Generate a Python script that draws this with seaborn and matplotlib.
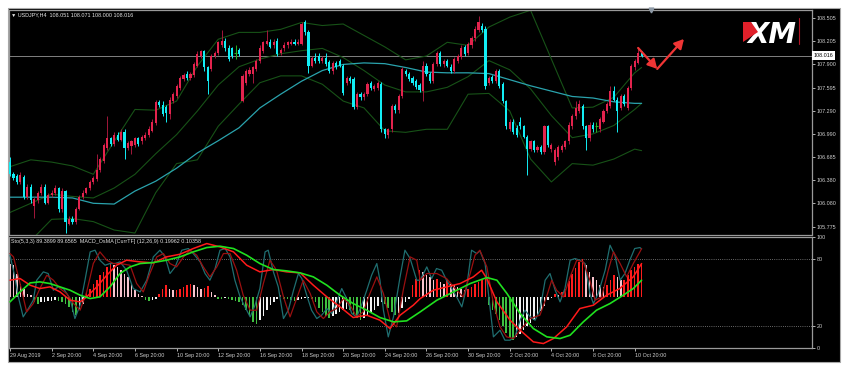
import numpy as np
import matplotlib
matplotlib.use("Agg")
import matplotlib.pyplot as plt
from matplotlib.patches import Rectangle, Polygon
import seaborn as sns

# ---------------- data ----------------
symbol_header = "\u25bc USDJPY,H4  108.051 108.071 108.000 108.016"
indicator_header = "Sto(5,3,3) 89.3899 89.6565  MACD_OsMA [CurrTF] (12,26,9) 0.19962 0.10358"

opens = [
    106.62, 106.46, 106.44, 106.36, 106.42, 106.16, 106.30, 106.04, 106.12, 106.21,
    106.30, 106.09, 106.19, 106.21, 106.28, 106.00, 106.24, 105.81, 105.88, 105.84,
    106.00, 106.16, 106.22, 106.28, 106.36, 106.40, 106.52, 106.64, 106.81, 106.93,
    106.86, 106.98, 106.91, 107.02, 106.81, 106.83, 106.85, 106.93, 106.89, 106.94,
    106.98, 107.03, 107.13, 107.41, 107.37, 107.34, 107.25, 107.42, 107.48, 107.59,
    107.71, 107.78, 107.72, 107.76, 107.88, 108.01, 108.07, 107.86, 107.84, 108.01,
    108.05, 108.16, 108.21, 108.12, 108.11, 108.05, 108.09, 107.42, 107.66, 107.78,
    107.78, 107.84, 107.95, 108.08, 108.17, 108.20, 108.15, 108.21, 108.05, 108.11,
    108.15, 108.17, 108.20, 108.17, 108.17, 108.45, 108.32, 107.88, 107.99, 108.01,
    107.95, 107.99, 107.93, 107.82, 107.92, 107.95, 107.88, 107.66, 107.72, 107.71,
    107.34, 107.51, 107.47, 107.51, 107.66, 107.58, 107.59, 107.64, 107.05, 106.98,
    107.05, 107.35, 107.30, 107.48, 107.82, 107.78, 107.72, 107.68, 107.63, 107.55,
    107.88, 107.78, 107.68, 107.91, 108.05, 107.91, 107.95, 107.87, 107.82, 107.95,
    108.00, 108.13, 108.05, 108.15, 108.24, 108.35, 108.41, 108.37, 107.66, 107.74,
    107.68, 107.82, 107.64, 107.42, 107.06, 107.15, 107.07, 107.15, 107.09, 106.95,
    106.79, 106.89, 106.78, 106.82, 106.75, 107.09, 106.79, 106.62, 106.69, 106.78,
    106.82, 106.89, 107.09, 107.22, 107.29, 107.35, 107.09, 106.93, 107.11, 107.09,
    107.05, 107.15, 107.29, 107.35, 107.55, 107.44, 107.33, 107.48, 107.33, 107.59,
    107.86, 107.92, 108.051]
highs = [
    106.69, 106.49, 106.46, 106.49, 106.45, 106.33, 106.33, 106.16, 106.24, 106.33,
    106.33, 106.22, 106.25, 106.32, 106.30, 106.28, 106.26, 105.91, 105.91, 106.03,
    106.19, 106.25, 106.30, 106.38, 106.44, 106.73, 106.69, 106.87, 107.22, 106.95,
    107.01, 107.02, 107.05, 107.05, 106.90, 106.91, 106.95, 106.95, 106.98, 107.01,
    107.09, 107.18, 107.44, 107.43, 107.42, 107.37, 107.47, 107.54, 107.64, 107.75,
    107.79, 107.82, 107.80, 107.93, 108.07, 108.09, 108.09, 107.88, 108.04, 108.08,
    108.21, 108.35, 108.24, 108.15, 108.13, 108.15, 108.12, 107.78, 107.84, 107.86,
    107.88, 107.97, 108.15, 108.21, 108.35, 108.23, 108.23, 108.24, 108.12, 108.19,
    108.21, 108.23, 108.23, 108.23, 108.45, 108.48, 108.35, 108.01, 108.05, 108.05,
    108.01, 108.05, 107.96, 107.95, 107.95, 107.97, 107.91, 107.75, 107.75, 107.74,
    107.54, 107.54, 107.54, 107.67, 107.68, 107.64, 107.68, 107.67, 107.07, 107.07,
    107.38, 107.38, 107.51, 107.87, 107.84, 107.80, 107.75, 107.71, 107.66, 107.95,
    107.92, 107.80, 107.93, 108.08, 108.08, 107.97, 107.97, 107.90, 108.00, 108.04,
    108.15, 108.16, 108.20, 108.27, 108.40, 108.53, 108.44, 108.41, 107.75, 107.76,
    107.84, 107.84, 107.67, 107.44, 107.18, 107.18, 107.10, 107.21, 107.11, 106.98,
    106.91, 106.91, 106.85, 106.85, 107.11, 107.11, 106.87, 106.81, 106.85, 106.86,
    106.91, 107.14, 107.25, 107.42, 107.44, 107.38, 107.11, 107.14, 107.14, 107.15,
    107.21, 107.31, 107.41, 107.62, 107.62, 107.47, 107.51, 107.51, 107.62, 107.91,
    107.97, 108.12, 108.071]
lows = [
    106.44, 106.38, 106.33, 106.33, 106.13, 106.13, 106.09, 105.89, 106.09, 106.19,
    106.07, 106.07, 106.16, 106.19, 105.97, 105.97, 105.69, 105.79, 105.81, 105.81,
    105.99, 106.13, 106.20, 106.25, 106.33, 106.37, 106.49, 106.61, 106.78, 106.83,
    106.83, 106.89, 106.89, 106.66, 106.78, 106.73, 106.82, 106.83, 106.86, 106.91,
    106.95, 107.01, 107.10, 107.34, 107.22, 107.15, 107.18, 107.39, 107.46, 107.56,
    107.68, 107.70, 107.70, 107.74, 107.86, 107.99, 107.82, 107.51, 107.82, 107.99,
    108.03, 108.13, 108.08, 107.95, 107.99, 107.97, 108.01, 107.41, 107.63, 107.75,
    107.66, 107.82, 107.92, 108.05, 108.15, 108.11, 108.12, 108.01, 108.03, 108.08,
    108.12, 108.15, 108.15, 108.15, 108.15, 108.29, 107.79, 107.86, 107.92, 107.92,
    107.92, 107.88, 107.79, 107.78, 107.84, 107.86, 107.50, 107.63, 107.66, 107.31,
    107.31, 107.44, 107.44, 107.48, 107.56, 107.55, 107.56, 107.02, 106.93, 106.94,
    107.02, 107.27, 107.27, 107.46, 107.75, 107.68, 107.63, 107.58, 107.54, 107.42,
    107.75, 107.66, 107.66, 107.88, 107.88, 107.87, 107.86, 107.79, 107.79, 107.92,
    107.97, 108.01, 108.03, 108.12, 108.21, 108.32, 108.32, 107.58, 107.63, 107.66,
    107.66, 107.59, 107.39, 107.06, 107.03, 106.99, 106.95, 107.06, 106.93, 106.45,
    106.77, 106.75, 106.75, 106.73, 106.73, 106.82, 106.75, 106.58, 106.65, 106.75,
    106.79, 106.86, 107.06, 107.19, 107.26, 107.05, 106.78, 106.90, 107.02, 107.02,
    107.02, 107.13, 107.26, 107.33, 107.42, 107.02, 107.30, 107.35, 107.30, 107.56,
    107.83, 107.90, 108.000]
closes = [
    106.46, 106.41, 106.36, 106.45, 106.16, 106.30, 106.12, 106.13, 106.21, 106.30,
    106.09, 106.19, 106.22, 106.28, 106.00, 106.24, 105.83, 105.88, 105.84, 106.00,
    106.16, 106.22, 106.28, 106.36, 106.41, 106.52, 106.66, 106.85, 106.93, 106.86,
    106.98, 106.91, 107.02, 106.81, 106.87, 106.89, 106.93, 106.86, 106.95, 106.98,
    107.06, 107.15, 107.41, 107.37, 107.25, 107.26, 107.44, 107.51, 107.62, 107.72,
    107.76, 107.72, 107.78, 107.91, 108.04, 108.07, 107.86, 107.68, 108.01, 108.05,
    108.19, 108.21, 108.11, 107.97, 108.01, 108.05, 108.04, 107.75, 107.82, 107.83,
    107.86, 107.95, 108.12, 108.19, 108.21, 108.13, 108.20, 108.04, 108.09, 108.16,
    108.19, 108.20, 108.17, 108.20, 108.43, 108.32, 107.88, 107.99, 107.95, 107.95,
    107.99, 107.91, 107.82, 107.92, 107.87, 107.88, 107.52, 107.72, 107.68, 107.34,
    107.51, 107.47, 107.51, 107.64, 107.59, 107.62, 107.66, 107.05, 106.99, 107.05,
    107.35, 107.30, 107.48, 107.84, 107.78, 107.71, 107.66, 107.60, 107.56, 107.88,
    107.78, 107.68, 107.91, 108.05, 107.91, 107.95, 107.88, 107.82, 107.97, 108.01,
    108.12, 108.04, 108.17, 108.24, 108.37, 108.45, 108.35, 107.62, 107.72, 107.68,
    107.82, 107.62, 107.42, 107.09, 107.15, 107.02, 106.98, 107.09, 106.95, 106.79,
    106.89, 106.78, 106.82, 106.75, 107.09, 106.85, 106.85, 106.78, 106.82, 106.83,
    106.89, 107.11, 107.22, 107.33, 107.38, 107.09, 106.93, 107.11, 107.05, 107.09,
    107.18, 107.29, 107.38, 107.55, 107.44, 107.29, 107.48, 107.38, 107.59, 107.88,
    107.95, 108.05, 108.016]

# moving average and Bollinger bands, read once per trading day
line_bars = list(range(0, 181, 6)) + [182]
ma_line = [106.16, 106.16, 106.16, 106.15, 106.08, 106.07, 106.24, 106.37, 106.54, 106.74,
           106.90, 107.07, 107.33, 107.51, 107.68, 107.82, 107.90, 107.92, 107.91, 107.86,
           107.80, 107.79, 107.79, 107.78, 107.70, 107.62, 107.55, 107.48, 107.46, 107.41,
           107.39, 107.39]
band_upper = [106.56, 106.65, 106.62, 106.57, 106.46, 106.89, 107.31, 107.30, 107.42, 107.88,
              108.23, 108.32, 108.32, 108.36, 108.45, 108.41, 108.43, 108.28, 108.13, 107.96,
              108.01, 108.19, 108.15, 108.39, 108.52, 108.61, 107.97, 107.33, 107.34, 107.47,
              107.79, 107.86]
band_mid = [105.96, 106.08, 106.20, 106.17, 106.15, 106.28, 106.46, 106.73, 106.98, 107.29,
            107.63, 107.87, 107.97, 108.04, 108.08, 108.11, 107.99, 107.82, 107.63, 107.54,
            107.54, 107.60, 107.74, 107.95, 107.83, 107.58, 107.23, 106.94, 106.99, 107.10,
            107.31, 107.39]
band_lower = [105.43, 105.59, 105.87, 105.88, 105.84, 105.73, 105.69, 106.22, 106.60, 106.65,
              107.09, 107.38, 107.66, 107.75, 107.75, 107.64, 107.42, 107.33, 107.03, 107.01,
              107.05, 107.05, 107.51, 107.52, 107.29, 106.66, 106.36, 106.60, 106.58, 106.66,
              106.79, 106.77]

# oscillator panel (0..100 scale)
osma_zero = 46.2
osma = [30.0, 28.5, 21.0, 12.0, 7.5, 3.0, 1.5, -4.5, -6.0, -5.0,
        -4.5, -4.0, -3.5, -3.0, -3.5, -4.5, -6.0, -9.0, -13.5, -16.5,
        -12.0, -6.0, 4.5, 7.5, 12.0, 15.0, 19.5, 22.5, 27.0, 30.0,
        28.5, 27.0, 24.0, 21.0, 18.0, 12.0, 6.0, 3.0, 0.9, -3.0,
        -3.6, -3.0, -1.5, 3.0, 7.5, 10.5, 7.5, 6.0, 6.6, 7.5,
        9.0, 10.5, 11.4, 10.5, 9.0, 7.5, 8.4, 9.6, 4.5, 1.5,
        -1.5, -2.1, -1.2, -1.8, -3.0, -3.6, -4.5, -7.5, -12.0, -17.4,
        -22.5, -24.0, -21.0, -17.4, -12.0, -7.5, -4.5, -1.5, 1.5, -1.5,
        -2.1, -3.0, -3.3, -2.4, -1.5, -1.2, -0.6, -1.8, -4.5, -9.6,
        -13.5, -17.4, -18.6, -17.4, -15.6, -13.8, -12.0, -10.8, -12.0, -15.6,
        -18.6, -20.4, -18.6, -16.5, -14.4, -11.4, -7.8, -4.8, -6.6, -9.6,
        -13.5, -16.5, -14.4, -9.6, -4.5, -1.5, 10.5, 16.5, 24.0, 22.5,
        19.5, 18.0, 15.0, 16.5, 13.5, 12.0, 15.0, 12.0, 10.5, 9.0,
        7.5, 6.6, 7.5, 9.0, 11.4, 13.5, 15.6, 16.5, -7.5, -12.0,
        -15.6, -20.4, -26.4, -32.4, -36.6, -39.0, -36.0, -33.0, -30.0, -26.4,
        -23.4, -20.4, -16.5, -12.9, -8.4, -3.0, -0.9, 2.4, 1.5, 4.5,
        7.5, 14.4, 21.0, 26.4, 31.5, 34.5, 28.5, 22.5, 18.0, 15.0,
        11.1, 9.0, 10.5, 15.0, 19.5, 18.0, 15.0, 15.6, 19.5, 24.6,
        27.0, 30.0, 30.6]

stoch_k_bars = [0, 1.4, 2.4, 3.8, 5.3, 6.7, 7.7, 9.6, 11.0, 12.5, 13.9, 15.4, 17.3, 18.7, 20.2, 21.6,
                23.1, 24.5, 25.9, 27.4, 28.8, 30.3, 31.7, 33.6, 35.5, 37.5, 39.4, 41.3, 43.2, 44.7,
                46.1, 47.6, 49.5, 51.4, 52.8, 54.8, 56.2, 57.6, 59.1, 60.5, 62.0, 63.4, 64.8, 66.3,
                67.7, 69.2, 70.6, 72.0, 73.5, 74.4, 75.9, 77.3, 78.8, 80.2, 81.7, 83.1, 84.1, 85.5,
                86.9, 88.4, 89.8, 91.3, 92.7, 94.1, 95.6, 97.0, 98.5, 99.9, 101.3, 102.8, 104.2,
                105.7, 106.6, 107.6, 109.0, 110.5, 112.4, 113.8, 115.3, 117.2, 118.2, 120.1, 121.5,
                122.9, 124.4, 125.8, 127.3, 128.7, 130.2, 131.6, 133.0, 134.5, 135.4, 136.9, 138.3,
                139.3, 141.2, 142.6, 144.1, 145.5, 147.0, 148.4, 149.9, 151.3, 152.7, 154.2, 155.6,
                157.1, 158.5, 159.9, 161.4, 162.8, 164.2, 165.7, 167.1, 168.1, 169.5, 171.5, 172.9,
                174.3, 175.8, 177.2, 178.6, 180.0, 181.5, 182.0]
stoch_k = [83.7, 64.2, 46.2, 28.2, 35.7, 43.2, 61.2, 68.7, 67.2, 52.2, 55.2, 53.7, 44.7, 26.7, 38.7,
           61.2, 86.7, 88.2, 79.2, 74.7, 76.2, 76.2, 77.7, 70.2, 53.7, 50.7, 61.2, 82.2, 88.2, 82.2,
           67.2, 73.2, 88.2, 89.7, 85.2, 77.7, 67.2, 61.2, 71.7, 88.2, 89.7, 82.2, 61.2, 46.2, 37.2,
           28.2, 38.7, 53.7, 86.7, 88.2, 68.7, 55.2, 26.7, 34.2, 52.2, 67.2, 62.7, 47.7, 34.2, 26.7,
           29.7, 35.7, 31.2, 41.7, 53.7, 44.7, 31.2, 28.2, 38.7, 52.2, 65.7, 76.2, 61.2, 34.2, 10.2,
           28.2, 64.2, 88.2, 80.7, 61.2, 61.2, 73.2, 62.7, 71.7, 70.2, 61.2, 53.7, 46.2, 37.2, 55.2,
           88.2, 85.2, 87.6, 76.2, 37.2, 10.2, 16.2, 7.2, 7.2, 10.2, 25.2, 34.2, 28.2, 25.2, 34.2,
           61.2, 67.2, 52.2, 41.7, 53.7, 79.2, 80.7, 79.2, 76.2, 49.2, 40.2, 49.2, 70.2, 92.7, 83.7,
           61.2, 67.2, 79.2, 89.7, 90.6, 89.4]
stoch_d_bars = [0, 1.0, 2.9, 4.8, 6.7, 8.6, 10.6, 12.5, 14.4, 16.3, 18.3, 20.2, 22.1, 24.0, 25.9,
                27.9, 29.8, 31.7, 34.6, 36.5, 38.4, 40.3, 42.3, 44.2, 46.1, 48.0, 50.0, 51.9, 53.8,
                55.7, 57.6, 59.6, 61.5, 63.4, 65.3, 67.2, 69.2, 71.1, 73.0, 74.9, 76.8, 78.8, 80.7,
                82.6, 84.5, 86.5, 88.4, 90.3, 92.2, 94.1, 96.1, 98.0, 99.9, 101.8, 103.7, 105.7,
                107.6, 109.5, 111.4, 113.4, 115.3, 117.2, 118.2, 120.1, 123.0, 125.8, 128.7, 130.6,
                132.6, 134.0, 135.4, 137.4, 139.3, 141.2, 143.1, 145.1, 147.0, 149.9, 152.7, 154.6,
                156.1, 157.5, 159.5, 161.4, 163.3, 165.2, 167.1, 168.6, 170.5, 172.4, 173.9, 175.8,
                177.7, 179.6, 181.5, 182.0]
stoch_d = [85.2, 82.2, 58.2, 32.7, 40.2, 53.7, 65.7, 61.2, 53.7, 49.2, 40.2, 34.2, 50.7, 76.2, 86.7,
           79.2, 76.2, 76.2, 74.7, 58.2, 50.7, 67.2, 82.2, 85.2, 76.2, 73.2, 82.2, 88.2, 83.7, 73.2,
           64.2, 73.2, 85.2, 85.2, 70.2, 47.7, 34.2, 34.2, 58.2, 79.2, 70.2, 46.2, 28.2, 44.7, 61.2,
           49.2, 32.7, 26.7, 32.7, 35.7, 44.7, 38.7, 28.2, 32.7, 49.2, 64.2, 49.2, 25.2, 19.2, 53.7,
           82.2, 79.2, 61.2, 67.2, 67.2, 62.7, 52.2, 46.2, 67.2, 83.7, 88.2, 73.2, 40.2, 19.2, 10.2,
           8.7, 16.2, 26.7, 29.7, 46.2, 61.2, 52.2, 46.2, 64.2, 79.2, 77.7, 61.2, 43.2, 46.2, 70.2,
           86.7, 76.2, 64.2, 76.2, 86.7, 89.7]
macd_bars = [0, 2.9, 5.8, 8.6, 11.5, 14.4, 17.3, 20.2, 22.1, 25.0, 27.9, 30.7, 33.6, 37.5, 41.3,
             45.1, 49.0, 52.8, 56.7, 60.5, 64.4, 68.2, 72.0, 75.9, 79.7, 83.6, 87.4, 91.3, 95.1,
             98.9, 102.8, 106.6, 109.5, 112.4, 116.2, 118.2, 122.0, 125.8, 129.7, 133.5, 135.9,
             137.4, 140.3, 144.1, 147.0, 150.8, 153.7, 156.6, 160.4, 164.2, 168.1, 171.9, 175.7,
             179.6, 182.0]
macd_main = [61.2, 62.7, 56.7, 53.7, 55.2, 50.7, 43.2, 41.7, 46.2, 55.2, 65.7, 74.7, 79.2, 77.7,
             76.8, 82.2, 84.6, 89.7, 94.2, 91.2, 86.7, 74.7, 68.7, 70.8, 68.7, 67.8, 56.7, 46.2,
             37.2, 27.6, 29.7, 25.2, 17.7, 29.7, 38.7, 44.7, 52.2, 55.2, 58.2, 64.2, 70.2, 62.7,
             41.7, 25.2, 16.2, 5.7, 4.2, 8.7, 19.2, 35.7, 38.7, 47.7, 53.7, 64.2, 76.2]
signal_bars = [0, 2.9, 5.8, 8.6, 11.5, 14.4, 17.3, 20.2, 23.1, 25.9, 28.8, 31.7, 34.6, 37.5, 41.3,
               45.1, 49.0, 52.8, 56.7, 60.5, 64.4, 68.2, 72.0, 75.9, 79.7, 83.6, 87.4, 91.3, 95.1,
               98.9, 102.8, 106.6, 110.5, 114.3, 118.2, 123.0, 127.8, 132.6, 137.4, 140.3, 143.2,
               147.0, 150.8, 154.7, 158.5, 161.4, 165.2, 169.0, 172.9, 176.7, 179.6, 182.0]
macd_signal = [41.7, 50.7, 58.8, 59.7, 58.2, 55.2, 52.2, 47.7, 44.7, 46.2, 55.2, 67.2, 73.2, 76.2,
               77.1, 79.2, 82.2, 86.7, 90.6, 91.8, 89.7, 83.7, 76.2, 70.8, 69.6, 67.8, 64.2, 56.7,
               47.7, 40.2, 34.2, 27.6, 23.7, 24.6, 32.7, 43.2, 50.7, 58.2, 63.6, 61.2, 49.2, 31.2,
               17.7, 10.2, 8.7, 11.7, 23.7, 34.2, 40.2, 47.7, 53.7, 61.2]

price_ticks = [108.505, 108.205, 107.900, 107.595, 107.290, 106.990, 106.685, 106.380, 106.080, 105.775]
last_price = 108.016
osc_ticks = [100, 80, 20, 0]
osc_levels = [80, 20]
date_bars = [0, 12, 24, 36, 48, 60, 72, 84, 96, 108, 120, 132, 144, 156, 168, 180]
date_labels = ["29 Aug 2019", "2 Sep 20:00", "4 Sep 20:00", "6 Sep 20:00", "10 Sep 20:00",
               "12 Sep 20:00", "16 Sep 20:00", "18 Sep 20:00", "20 Sep 20:00", "24 Sep 20:00",
               "26 Sep 20:00", "30 Sep 20:00", "2 Oct 20:00", "4 Oct 20:00", "8 Oct 20:00",
               "10 Oct 20:00"]
forecast_bars = [181.0, 186.5, 194.2]
forecast_prices = [108.116, 107.841, 108.234]

# ---------------- style ----------------
sns.set_theme(style="dark")
FONT = ['Liberation Sans', 'DejaVu Sans']
plt.rcParams['font.family'] = FONT
plt.rcParams['axes.facecolor'] = 'black'
TXT = '#cfcfcf'
FS = 3.9

W, H = 851, 370
fig = plt.figure(figsize=(W / 100, H / 100), dpi=100, facecolor='white')


def fx(px):
    return px / W


def fy(py):
    return 1 - py / H


fig.patches.append(Rectangle((fx(8), fy(362)), fx(840) - fx(8), fy(8) - fy(362),
                             transform=fig.transFigure, facecolor='black',
                             edgecolor='#a8a8a8', linewidth=0.8, zorder=-10))

ax = fig.add_axes([fx(9), fy(234.5), fx(812) - fx(9), fy(9.5) - fy(234.5)])
ax2 = fig.add_axes([fx(9), fy(348.2), fx(812) - fx(9), fy(237.1) - fy(348.2)])
x_left, x_right = -0.29, 231.1

for a in (ax, ax2):
    a.set_facecolor('black')
    a.grid(False)
    for s in a.spines.values():
        s.set_color('#9a9a9a')
        s.set_linewidth(0.9)

# ---------------- main price panel ----------------
o = np.array(opens)
h = np.array(highs)
lo = np.array(lows)
c = np.array(closes)
xb = np.arange(len(c))
up = c > o
dn = c < o
dj = c == o

RED = '#e3234d'
RED_WICK = '#a3173a'
CYAN = '#12eef5'
DOJI = '#23b523'

for band in (band_upper, band_mid, band_lower):
    sns.lineplot(x=line_bars, y=band, ax=ax, color='#175217', linewidth=0.8, zorder=2)
sns.lineplot(x=line_bars, y=ma_line, ax=ax, color='#2aa3ad', linewidth=0.9, zorder=2)

ax.axhline(last_price, color='#808080', linewidth=0.7, zorder=1)

ax.vlines(xb[up], lo[up], h[up], color=RED_WICK, linewidth=0.7, zorder=3)
ax.vlines(xb[dn], lo[dn], h[dn], color=CYAN, linewidth=0.7, zorder=3)
ax.vlines(xb[dj], lo[dj], h[dj], color=DOJI, linewidth=0.7, zorder=3)
body = np.maximum(np.abs(c - o), 0.012)
ax.bar(xb[up], body[up], bottom=o[up], width=0.62, color=RED, linewidth=0, zorder=4)
ax.bar(xb[dn], body[dn], bottom=c[dn], width=0.62, color=CYAN, linewidth=0, zorder=4)
ax.hlines(o[dj], xb[dj] - 0.35, xb[dj] + 0.35, color=DOJI, linewidth=0.8, zorder=4)

for i in range(len(forecast_bars) - 1):
    ax.annotate('', xy=(forecast_bars[i + 1], forecast_prices[i + 1]),
                xytext=(forecast_bars[i], forecast_prices[i]),
                arrowprops=dict(arrowstyle='-|>,head_length=0.55,head_width=0.3',
                                color='#f03535', lw=1.6, shrinkA=0, shrinkB=0,
                                mutation_scale=10), zorder=6)

ax.set_xlim(x_left, x_right)
ax.set_ylim(105.671, 108.620)
ax.set_xticks([])
ax.yaxis.tick_right()
ax.set_yticks(price_ticks)
ax.set_yticklabels([f"{t:.3f}" for t in price_ticks])
ax.tick_params(axis='y', colors=TXT, labelsize=FS, length=2, width=0.6, pad=1.5, right=True)
ax.set_xlabel('')
ax.set_ylabel('')

ax.text(1.0 + 1.5 / 803, last_price, f"{last_price:.3f}", transform=ax.get_yaxis_transform(),
        ha='left', va='center', fontsize=FS, color='black', clip_on=False, zorder=10,
        bbox=dict(boxstyle='square,pad=0.3', facecolor='white', edgecolor='none'))

ax.plot([184.7], [108.62], marker='v', markersize=3.5, color='#8d99a6', clip_on=False, zorder=7)

fig.text(fx(11), fy(14.5), symbol_header, fontsize=FS, color='#e6e6e6', va='center', ha='left',
         family=FONT)

# XM logo
fig.text(fx(747), fy(43), "XM", fontsize=20, fontweight='heavy', fontstyle='italic',
         color='white', ha='left', va='baseline', family=['DejaVu Sans'])
fig.patches.append(Polygon([(fx(743), fy(22)), (fx(751), fy(22)), (fx(758), fy(32)), (fx(743), fy(42))],
                           closed=True, transform=fig.transFigure, facecolor='#e0202a',
                           edgecolor='none', zorder=5))
fig.lines.append(plt.Line2D([fx(799), fx(799)], [fy(18), fy(44)], transform=fig.transFigure,
                            color='#b01525', linewidth=0.8))

# ---------------- oscillator panel ----------------
osma_arr = np.array(osma)
d = np.diff(osma_arr, prepend=np.inf)
hist_colors = np.where(osma_arr >= 0,
                       np.where(d > 0, '#ff1c1c', '#f7c3cd'),
                       np.where(d < 0, '#3fbf3f', '#f2f2f2'))
ax2.bar(xb, osma_arr, bottom=osma_zero, width=0.45, color=hist_colors, linewidth=0, zorder=2)

for lvl in osc_levels:
    ax2.axhline(lvl, color='#8a8a8a', linewidth=0.6, linestyle=(0, (1, 1.6)), zorder=1)

sns.lineplot(x=stoch_k_bars, y=stoch_k, ax=ax2, color='#1f6e70', linewidth=0.9, zorder=3)
sns.lineplot(x=stoch_d_bars, y=stoch_d, ax=ax2, color='#9a1010', linewidth=0.9, zorder=3)
sns.lineplot(x=macd_bars, y=macd_main, ax=ax2, color='#ff1a1a', linewidth=1.1, zorder=4)
sns.lineplot(x=signal_bars, y=macd_signal, ax=ax2, color='#1fe01f', linewidth=1.2, zorder=4)

ax2.set_xlim(x_left, x_right)
ax2.set_ylim(0, 100)
ax2.yaxis.tick_right()
ax2.set_yticks(osc_ticks)
ax2.set_yticklabels([str(t) for t in osc_ticks])
ax2.tick_params(axis='y', colors=TXT, labelsize=FS, length=2, width=0.6, pad=1.5, right=True)
ax2.set_xticks(date_bars)
ax2.set_xticklabels(date_labels, ha='left')
ax2.tick_params(axis='x', colors=TXT, labelsize=FS, length=2, width=0.6, pad=1.2, bottom=True)
ax2.set_xlabel('')
ax2.set_ylabel('')

fig.text(fx(11), fy(241.5), indicator_header, fontsize=FS, color='#e0e0e0', va='center', ha='left',
         family=FONT)

fig.savefig('out.png', dpi=100, facecolor='white')
